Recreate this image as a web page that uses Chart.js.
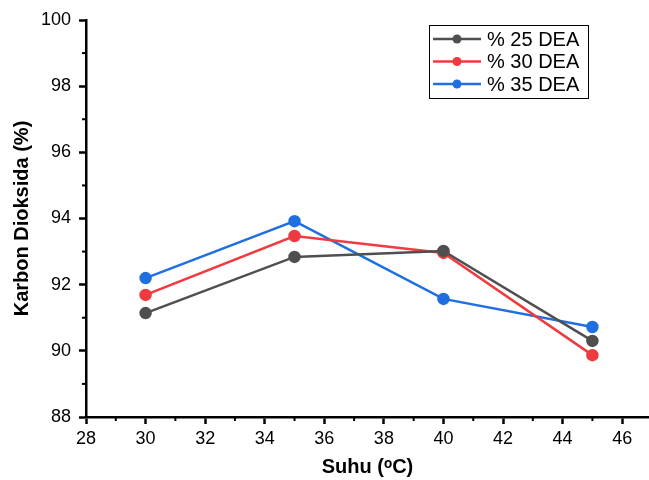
<!DOCTYPE html>
<html><head><meta charset="utf-8">
<script src="https://cdn.jsdelivr.net/npm/chart.js@4/dist/chart.umd.min.js"></script>
<style>html,body{margin:0;padding:0;background:#fff;}#wrap{width:649px;height:480px;}</style>
</head><body><div id="wrap"><canvas id="c" width="649" height="480"></canvas></div>
<script>
const temperatures = [30, 35, 40, 45];
const seriesLabels = ['% 25 DEA', '% 30 DEA', '% 35 DEA'];
const dea25 = [91.14, 92.84, 93.02, 90.30];
const dea30 = [91.69, 93.47, 92.96, 89.87];
const dea35 = [92.20, 93.92, 91.57, 90.72];
const seriesColors = ['#4f4f4f', '#ef3a3f', '#1f6fe0'];
const xTitle = 'Suhu (\u1D52C)';
const yTitle = 'Karbon Dioksida (%)';
const FONT = '"Liberation Sans", Arial, sans-serif';

const allSeries = [dea25, dea30, dea35];
const datasets = allSeries.map((vals, i) => ({
  label: seriesLabels[i],
  data: temperatures.map((t, j) => ({x: t, y: vals[j]})),
  borderColor: seriesColors[i],
  backgroundColor: seriesColors[i],
  borderWidth: 2.5,
  pointRadius: 5,
  pointHoverRadius: 5,
  tension: 0
}));

const majorOnly = c => (c.tick && c.tick.value % 2 === 0) ? '#000' : 'rgba(0,0,0,0)';

const minorTicks = {
  id: 'minorTicks',
  afterDraw(chart) {
    const ctx = chart.ctx;
    const xs = chart.scales.x, ys = chart.scales.y;
    ctx.save();
    ctx.strokeStyle = '#000';
    ctx.lineWidth = 2;
    for (let v = Math.ceil(xs.min); v <= xs.max; v++) {
      if (v % 2 === 0) continue;
      const px = xs.getPixelForValue(v);
      ctx.beginPath(); ctx.moveTo(px, xs.top); ctx.lineTo(px, xs.top + 4); ctx.stroke();
    }
    for (let v = Math.ceil(ys.min); v <= ys.max; v++) {
      if (v % 2 === 0) continue;
      const py = ys.getPixelForValue(v);
      ctx.beginPath(); ctx.moveTo(ys.right, py); ctx.lineTo(ys.right - 4, py); ctx.stroke();
    }
    ctx.restore();
  }
};

const boxLegend = {
  id: 'boxLegend',
  afterDraw(chart) {
    const ctx = chart.ctx;
    const x0 = 429, y0 = 25, w = 159, h = 73;
    ctx.save();
    ctx.strokeStyle = '#000';
    ctx.lineWidth = 1;
    ctx.strokeRect(x0 + 0.5, y0 + 0.5, w, h);
    const rows = [39, 61.5, 84];
    chart.data.datasets.forEach((ds, i) => {
      const y = rows[i];
      ctx.strokeStyle = ds.borderColor;
      ctx.lineWidth = 2.5;
      ctx.beginPath(); ctx.moveTo(433, y); ctx.lineTo(481, y); ctx.stroke();
      ctx.fillStyle = ds.borderColor;
      ctx.beginPath(); ctx.arc(457, y, 4.5, 0, Math.PI * 2); ctx.fill();
      ctx.fillStyle = '#000';
      ctx.font = '20px ' + FONT;
      ctx.textBaseline = 'middle';
      ctx.textAlign = 'left';
      ctx.fillText(ds.label, 487, y + 1);
    });
    ctx.restore();
  }
};

new Chart(document.getElementById('c'), {
  type: 'line',
  data: { datasets },
  options: {
    responsive: false,
    animation: false,
    layout: { autoPadding: false, padding: { left: 6, top: 20, right: 0, bottom: 1 } },
    plugins: { legend: { display: false }, tooltip: { enabled: false } },
    scales: {
      x: {
        type: 'linear', min: 28, max: 46.9,
        afterFit(s) { s.height = 62; s.paddingRight = 0; s.paddingLeft = 0; },
        border: { display: true, color: '#000', width: 2.5 },
        grid: { drawOnChartArea: false, drawTicks: true, tickLength: 7, tickColor: majorOnly, tickWidth: 2.5 },
        ticks: {
          stepSize: 1, autoSkip: false, includeBounds: false, maxRotation: 0, padding: 4, color: '#000',
          font: { family: FONT, size: 18 },
          callback: v => (v % 2 === 0) ? String(v) : ''
        },
        title: { display: true, text: xTitle, color: '#000', padding: { top: 4, bottom: 0 },
          font: { family: FONT, size: 20, weight: 'bold' } }
      },
      y: {
        type: 'linear', min: 88, max: 100,
        afterFit(s) { s.width = 80; s.paddingTop = 0; s.paddingBottom = 0; },
        border: { display: true, color: '#000', width: 2.5 },
        grid: { drawOnChartArea: false, drawTicks: true, tickLength: 7, tickColor: majorOnly, tickWidth: 2.5 },
        ticks: {
          stepSize: 1, autoSkip: false, padding: 8, color: '#000',
          font: { family: FONT, size: 18 },
          callback: v => (v % 2 === 0) ? String(v) : ''
        },
        title: { display: true, text: yTitle, color: '#000',
          font: { family: FONT, size: 20, weight: 'bold' } }
      }
    }
  },
  plugins: [minorTicks, boxLegend]
});
</script>
</body></html>
